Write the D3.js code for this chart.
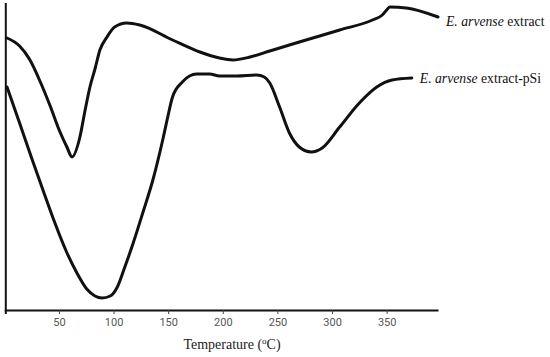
<!DOCTYPE html>
<html>
<head>
<meta charset="utf-8">
<script src="https://cdn.jsdelivr.net/npm/d3@7"></script>
<style>
  body { margin: 0; background: #fff; }
  svg { display: block; }
</style>
</head>
<body>
<div id="chart"></div>
<script>
// Temperature (°C) and relative heat flow (arbitrary units)
const extractTemp = [2.5, 14, 23.5, 33, 42, 51, 57.3, 62, 69, 74, 78.4, 83, 87.5, 94, 101, 112, 124, 154, 179, 197, 209, 225, 243, 270, 307, 337, 346, 350, 353, 368, 397];
const extractFlow = [272, 264, 250, 228, 204, 178, 163, 153, 172, 200, 223, 241, 260, 273, 283, 287, 285, 270, 258, 252, 250, 253, 259, 268, 280, 290, 295, 300, 303, 302, 293];

const pSiTemp = [2.5, 14, 25, 37, 46, 57, 66.5, 75.5, 83, 89.5, 97, 103, 110, 118, 127, 136, 145, 149, 154, 163, 176, 188, 197, 213, 231, 238, 243, 252, 261, 270, 281, 291, 307, 325, 341, 355, 373];
const pSiFlow = [223, 187, 152, 115, 88, 58, 37, 21, 14, 12, 14, 22, 42, 67, 98, 130, 170, 190, 213, 228, 236, 236, 234, 234, 235, 233, 227, 203, 177, 163, 158, 162, 183, 207, 223, 230, 232];

const xTicks = [50, 100, 150, 200, 250, 300, 350];
const seriesNames = ["extract", "extract-pSi"];

const width = 550, height = 357;
const margin = { top: 3, right: 112, bottom: 47, left: 4.3 };

const svg = d3.select("#chart")
    .append("svg")
    .attr("width", width)
    .attr("height", height);

const xScale = d3.scaleLinear()
    .domain([0, 397])
    .range([margin.left, width - margin.right]);

const yScale = d3.scaleLinear()
    .domain([0, 307])
    .range([height - margin.bottom, margin.top]);

// X axis
const xAxis = svg.append("g")
    .attr("transform", `translate(0, ${height - margin.bottom})`)
    .call(d3.axisBottom(xScale).tickValues(xTicks).tickSize(4).tickSizeOuter(0).tickPadding(4));

xAxis.select(".domain")
    .attr("stroke", "#111")
    .attr("stroke-width", 2);
xAxis.selectAll(".tick line").attr("stroke", "#444");
xAxis.selectAll(".tick text")
    .attr("fill", "#555")
    .style("font-family", "Roboto, sans-serif")
    .style("font-size", "11px");

// Y axis (no ticks)
svg.append("line")
    .attr("x1", xScale(0) + 1.5).attr("x2", xScale(0) + 1.5)
    .attr("y1", margin.top).attr("y2", height - margin.bottom + 4)
    .attr("stroke", "#111")
    .attr("stroke-width", 2);

// Axis title
const title = svg.append("text")
    .attr("x", 232)
    .attr("y", 349)
    .attr("text-anchor", "middle")
    .style("font-family", "'Liberation Serif', serif")
    .style("font-size", "14px")
    .attr("fill", "#222");
title.append("tspan").text("Temperature (");
title.append("tspan").attr("dy", -5).style("font-size", "9px").text("o");
title.append("tspan").attr("dy", 5).text("C)");

// Curves
const line = d3.line()
    .x(d => xScale(d[0]))
    .y(d => yScale(d[1]))
    .curve(d3.curveMonotoneX);

const series = [
    d3.zip(extractTemp, extractFlow),
    d3.zip(pSiTemp, pSiFlow)
];

svg.selectAll("path.curve")
    .data(series)
    .enter().append("path")
    .attr("class", "curve")
    .attr("d", line)
    .attr("fill", "none")
    .attr("stroke", "#111")
    .attr("stroke-width", 3)
    .attr("stroke-linejoin", "round")
    .attr("stroke-linecap", "round");

// Series labels next to the line ends
series.forEach((s, i) => {
    const last = s[s.length - 1];
    const t = svg.append("text")
        .attr("x", xScale(last[0]) + 8)
        .attr("y", yScale(last[1]) + (i === 0 ? 9 : 5))
        .style("font-family", "'Liberation Serif', serif")
        .style("font-size", "13.7px")
        .attr("fill", "#111");
    t.append("tspan").style("font-style", "italic").text("E. arvense");
    t.append("tspan").text(" " + seriesNames[i]);
});
</script>
</body>
</html>
